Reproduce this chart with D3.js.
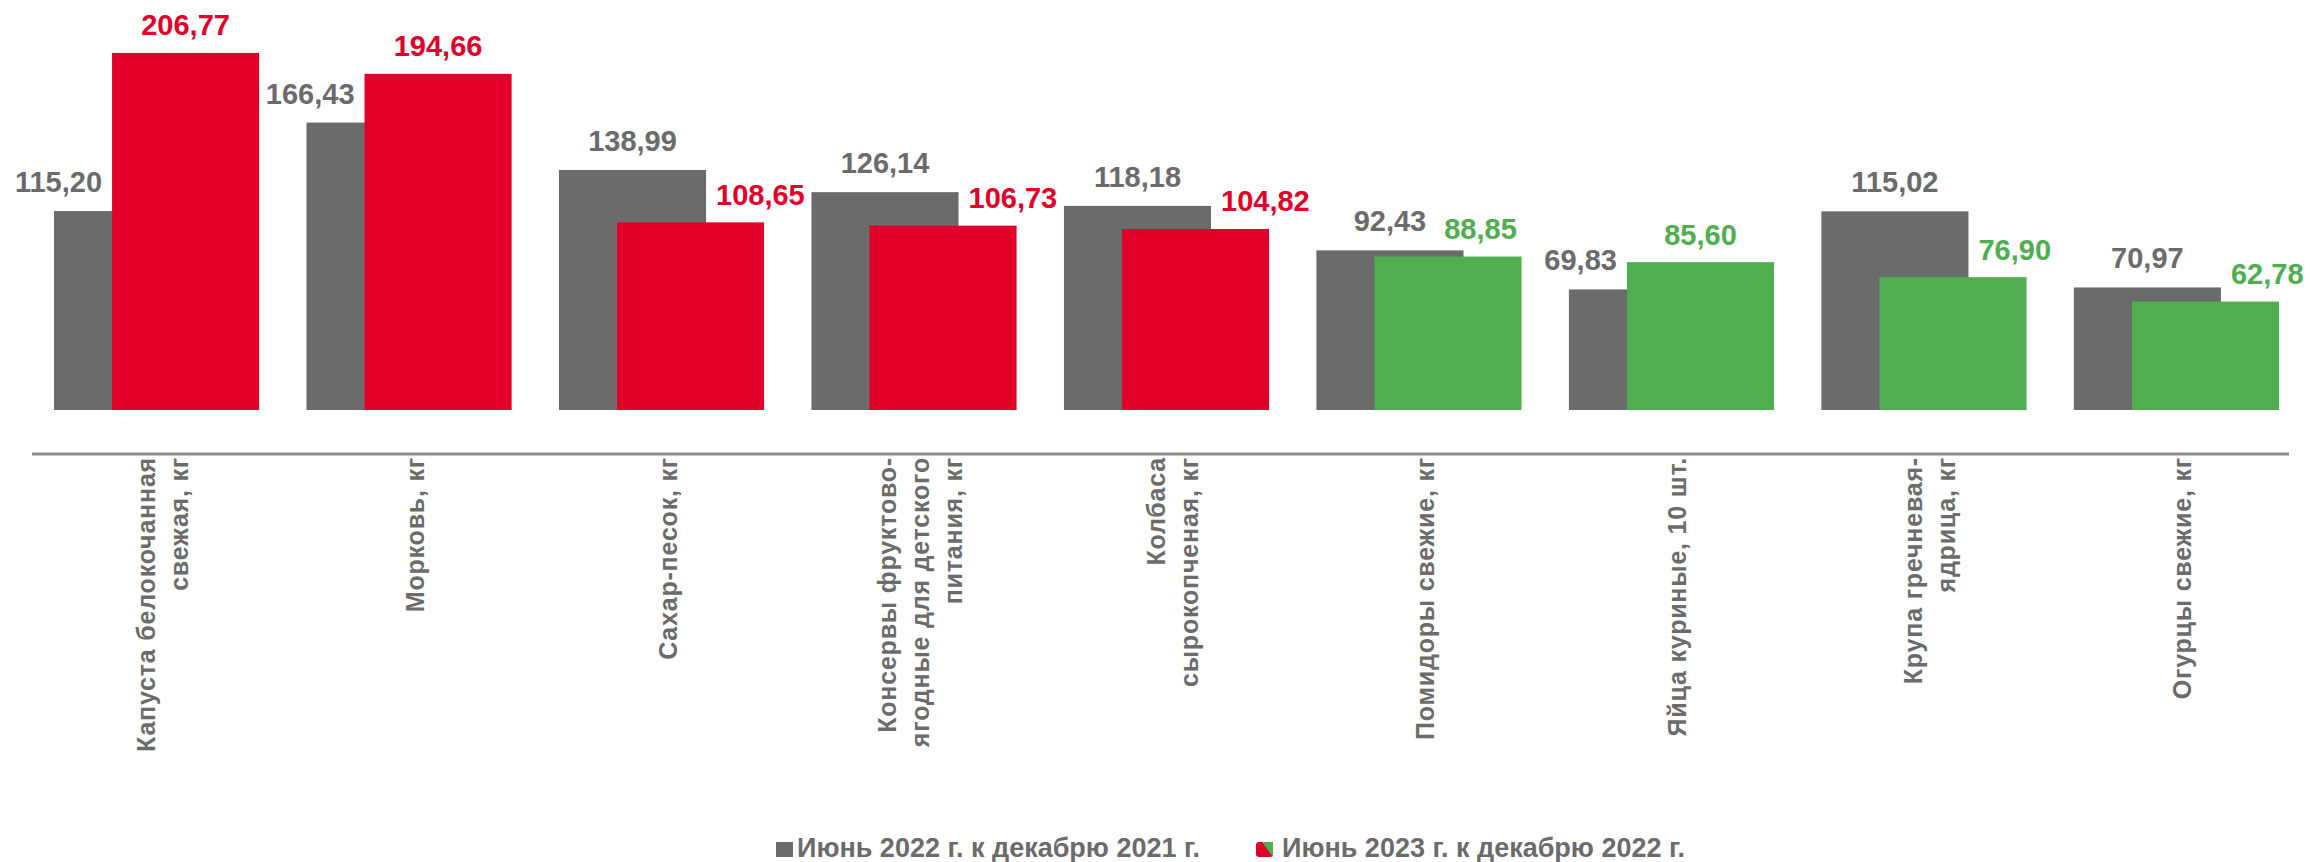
<!DOCTYPE html>
<html>
<head>
<meta charset="utf-8">
<script src="https://cdn.jsdelivr.net/npm/d3@7"></script>
<style>
  body { margin: 0; background: #fff; }
  svg { display: block; font-family: "Liberation Sans", Arial, sans-serif; }
</style>
</head>
<body>
<div class="chart"></div>
<script>
// данные
const categories = [
  "Капуста белокочанная\nсвежая, кг",
  "Морковь, кг",
  "Сахар-песок, кг",
  "Консервы фруктово-\nягодные для детского\nпитания, кг",
  "Колбаса\nсырокопченая, кг",
  "Помидоры свежие, кг",
  "Яйца куриные, 10 шт.",
  "Крупа гречневая-\nядрица, кг",
  "Огурцы свежие, кг"
];
const values2022 = [115.20, 166.43, 138.99, 126.14, 118.18, 92.43, 69.83, 115.02, 70.97];
const values2023 = [206.77, 194.66, 108.65, 106.73, 104.82, 88.85, 85.60, 76.90, 62.78];
// группа товаров: красные / зелёные
const groups2023 = ["red", "red", "red", "red", "red", "green", "green", "green", "green"];
const seriesNames = ["Июнь 2022 г. к декабрю 2021 г.", "Июнь 2023 г. к декабрю 2022 г."];

const W = 2310, H = 862;
const colors = { gray: "#6b6b6b", red: "#e2002b", green: "#4fae50", axis: "#8c8c8c", text: "#6b6b6b" };

const svg = d3.select(".chart").append("svg")
  .attr("width", W)
  .attr("height", H)
  .attr("viewBox", `0 0 ${W} ${H}`);

const x = d3.scaleBand().domain(d3.range(categories.length)).range([54, 2279])
  .paddingInner(0.1875).paddingOuter(0);
const y = d3.scaleLinear().domain([0, 220]).range([410, 410 - 220 * 1.727]);

const bw = x.bandwidth();
const barW = bw * 0.717;
const shift = bw - barW;

const data = categories.map((c, i) => ({
  i, cat: c, a: values2022[i], b: values2023[i], col: colors[groups2023[i]]
}));

// столбцы 2022
svg.append("g").selectAll("rect")
  .data(data).enter().append("rect")
  .attr("x", d => x(d.i))
  .attr("y", d => y(d.a))
  .attr("width", barW)
  .attr("height", d => y(0) - y(d.a))
  .attr("fill", colors.gray);

// столбцы 2023
svg.append("g").selectAll("rect")
  .data(data).enter().append("rect")
  .attr("x", d => x(d.i) + shift)
  .attr("y", d => y(d.b))
  .attr("width", barW)
  .attr("height", d => y(0) - y(d.b))
  .attr("fill", d => d.col);

// ось
svg.append("line")
  .attr("x1", 32).attr("x2", 2289)
  .attr("y1", 454).attr("y2", 454)
  .attr("stroke", colors.axis)
  .attr("stroke-width", 3);

const fmt = v => v.toFixed(2).replace(".", ",");
const lfs = 29;

// подписи 2022
const labA = svg.append("g").selectAll("text")
  .data(data).enter().append("text")
  .attr("font-size", lfs).attr("font-weight", "bold")
  .attr("fill", colors.text)
  .attr("y", d => y(d.a) - 19)
  .attr("x", d => d.a < d.b ? x(d.i) + shift - 10 : x(d.i) + barW / 2)
  .attr("text-anchor", d => d.a < d.b ? "end" : "middle")
  .text(d => fmt(d.a));

const boxA = [];
labA.each(function (d) { boxA[d.i] = this.getBBox(); });

// подписи 2023
svg.append("g").selectAll("text")
  .data(data).enter().append("text")
  .attr("font-size", lfs).attr("font-weight", "bold")
  .attr("fill", d => d.col)
  .attr("y", d => y(d.b) - 17.5)
  .attr("x", d => {
    if (d.b >= d.a) return x(d.i) + shift + barW / 2;
    // подпись выше серого столбца — только не наезжать на серую подпись
    if (y(d.b) - 17.5 < y(d.a) - 4) return boxA[d.i].x + boxA[d.i].width + 18;
    return x(d.i) + barW + 10;
  })
  .attr("text-anchor", d => d.b >= d.a ? "middle" : "start")
  .text(d => fmt(d.b));

// подписи категорий
const fs = 25, lh = 33;
const cats = svg.append("g").selectAll("g")
  .data(data).enter().append("g")
  .attr("transform", d => `translate(${x(d.i) + bw / 2 + 6}, 457) rotate(-90)`);
cats.each(function (d) {
  const lines = d.cat.split("\n");
  const t = d3.select(this).append("text")
    .attr("font-size", fs).attr("font-weight", "bold")
    .attr("letter-spacing", 0.8)
    .attr("fill", colors.text)
    .attr("text-anchor", "end");
  lines.forEach((ln, k) => {
    t.append("tspan")
      .attr("x", 0)
      .attr("y", (k - (lines.length - 1) / 2) * lh + fs * 0.36)
      .text(ln);
  });
});

// легенда
const leg = svg.append("g").attr("font-size", 27).attr("font-weight", "bold").attr("fill", colors.text);
leg.append("rect").attr("x", 776).attr("y", 842).attr("width", 17).attr("height", 15).attr("fill", colors.gray);
leg.append("text").attr("x", 797).attr("y", 857).text(seriesNames[0]);
leg.append("rect").attr("x", 1256).attr("y", 842).attr("width", 17).attr("height", 15).attr("rx", 3)
  .attr("fill", colors.red);
leg.append("path").attr("d", "M1262,842 L1273,842 L1273,857 Z").attr("fill", colors.green);
leg.append("text").attr("x", 1282).attr("y", 857).text(seriesNames[1]);
</script>
</body>
</html>
